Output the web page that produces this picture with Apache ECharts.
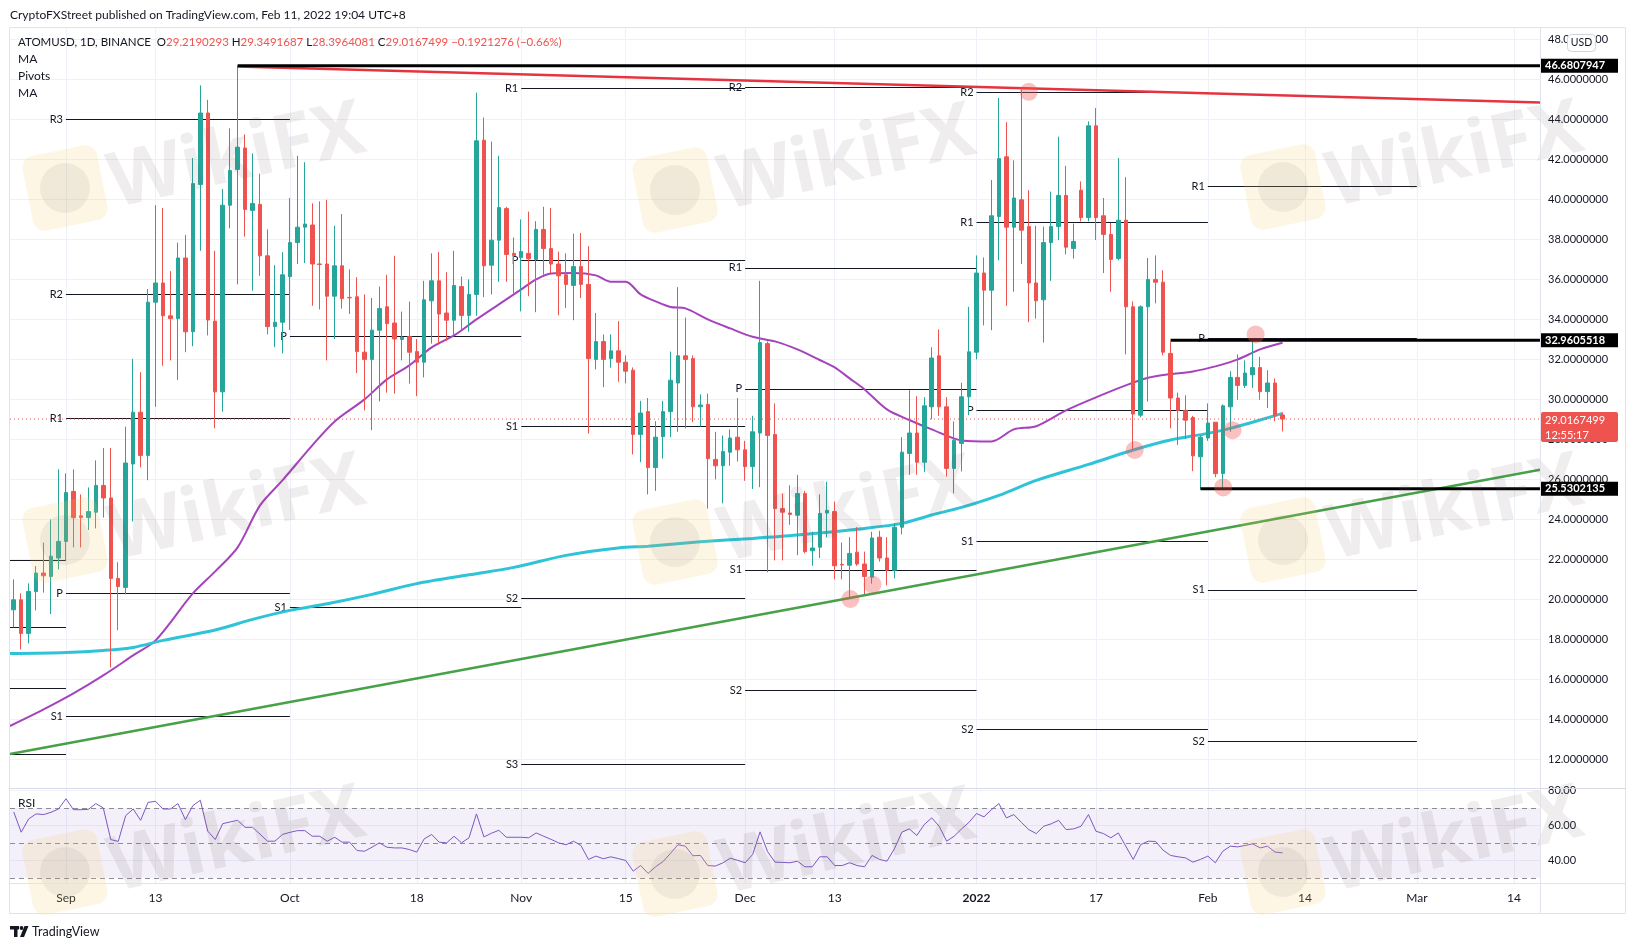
<!DOCTYPE html>
<html>
<head>
<meta charset="utf-8">
<title>ATOMUSD 1D</title>
<script src="https://cdn.jsdelivr.net/npm/echarts@6/dist/echarts.min.js"></script>
<style>
html, body { margin: 0; padding: 0; background: #fff; }
#chart { width: 1633px; height: 950px; }
</style>
</head>
<body>
<div id="chart"></div>
<script>
var FONT = 'Lato, "Liberation Sans", sans-serif';

// one category per day, starting 2021-08-25
var firstDay = Date.UTC(2021, 7, 25);
var dayCount = 205;

// daily candles [open, close, low, high] from 2021-08-25 to 2022-02-11
var candles = [
  [19.48,19.98,18.6,21.0],[19.98,18.3,17.5,20.3],[18.3,20.4,17.8,20.8],[20.39,21.32,19.45,21.67],
  [21.32,21.18,20.34,22.84],[21.15,22.16,19.27,24.0],[22.07,22.9,21.5,26.5],[22.9,25.34,21.95,26.3],
  [25.4,24.09,22.6,26.5],[24.18,24.09,22.6,25.25],[24.09,24.39,23.47,25.6],[24.36,25.7,23.55,26.95],
  [25.7,25.07,24.09,27.57],[25.07,21.05,16.6,27.57],[21.05,20.64,18.46,21.86],[20.6,26.82,20.25,28.64],
  [26.77,29.36,23.9,32.03],[29.36,27.2,26.6,31.36],[27.2,34.86,25.96,35.52],[34.86,35.82,29.63,39.71],
  [35.82,34.18,31.68,39.57],[34.18,34.04,31.95,36.41],[34.04,37.07,30.97,37.84],[37.07,33.38,32.36,38.23],
  [33.38,40.79,32.66,42.07],[40.75,44.32,37.43,45.7],[44.32,33.97,33.2,44.98],[33.91,30.38,28.55,37.43],
  [30.38,39.71,29.39,40.52],[39.71,41.45,38.55,43.55],[41.5,42.61,35.75,46.68],[42.57,39.5,38.14,43.25],
  [39.45,39.8,35.43,42.3],[39.75,37.18,36.18,41.29],[37.18,33.64,33.25,38.5],[33.64,33.86,32.61,36.71],
  [33.86,36.23,32.3,37.36],[36.14,37.84,33.47,40.07],[37.84,38.61,36.77,42.18],[38.61,38.77,36.82,41.86],
  [38.72,36.77,34.68,39.8],[36.77,36.75,34.5,39.9],[36.77,35.16,31.95,39.98],[35.16,36.68,33.02,38.68],
  [36.68,35.04,34.54,39.27],[35.1,35.08,34.27,36.5],[35.13,32.39,31.32,36.11],[32.36,32.0,29.45,35.25],
  [32.0,33.46,28.46,35.07],[33.46,34.54,29.9,35.64],[34.63,33.79,30.34,36.23],[33.82,33.02,30.29,37.18],
  [33.0,33.11,31.95,34.39],[33.14,32.36,30.79,34.89],[32.39,31.86,30.16,33.02],[31.86,34.98,31.1,35.93],
  [34.93,35.93,32.79,37.3],[35.93,34.27,32.75,37.36],[34.32,33.96,32.93,36.36],[33.96,35.7,33.2,37.43],
  [35.64,34.2,33.46,36.14],[34.2,35.25,33.38,36.0],[35.25,42.93,34.18,45.34],[42.96,36.68,35.11,44.09],
  [36.71,37.96,35.25,42.89],[37.96,39.59,35.88,42.18],[39.54,37.25,35.88,39.63],[37.3,37.2,35.3,38.1],
  [37.1,37.4,34.4,39.0],[37.3,37.03,35.16,39.39],[37.0,38.5,34.36,38.91],[38.5,37.54,36.23,39.63],
  [37.54,36.77,36.32,39.57],[36.77,36.18,34.2,37.39],[36.23,35.75,34.57,37.3],[35.7,36.64,33.96,38.29],
  [36.64,35.75,35.07,38.32],[35.75,32.04,28.29,37.66],[32.0,32.89,31.5,34.32],[32.89,32.0,30.61,33.25],
  [32.04,32.43,31.59,33.25],[32.43,31.86,30.88,33.91],[31.86,31.41,30.8,32.2],[31.46,28.25,27.25,31.6],
  [28.25,29.32,26.86,29.93],[29.39,26.59,25.25,30.07],[26.59,28.11,25.43,28.91],[28.14,29.39,27.04,29.93],
  [29.39,30.96,28.11,32.39],[30.82,32.18,28.38,35.61],[32.18,32.0,28.55,34.09],[32.04,29.63,28.86,32.2],
  [29.63,29.72,28.64,30.25],[29.75,27.04,24.54,30.29],[27.0,26.68,26.0,28.38],[26.68,27.39,24.8,28.2],
  [27.36,28.07,26.68,28.5],[28.11,27.48,26.89,30.07],[27.48,26.64,25.93,27.93],[26.64,28.38,25.52,29.18],
  [28.32,32.84,25.61,35.93],[32.79,28.2,21.36,32.9],[28.25,24.54,21.95,29.8],[24.54,24.36,21.95,25.29],
  [24.32,24.25,23.73,25.7],[24.21,25.29,22.21,26.23],[25.29,22.39,22.3,25.43],[22.43,22.57,21.68,23.38],
  [22.61,24.3,22.07,25.25],[24.32,24.45,23.11,25.88],[24.39,21.68,21.0,24.89],[21.75,21.72,21.0,22.84],
  [21.71,22.3,20.07,23.11],[22.36,21.77,21.68,23.61],[21.77,21.14,20.25,22.39],[21.11,23.07,20.79,23.38],
  [23.11,22.07,21.89,23.43],[22.07,21.46,20.7,23.11],[21.46,23.61,21.05,23.82],[23.61,27.36,23.25,28.11],
  [27.3,28.32,26.23,30.46],[28.32,26.86,26.23,30.16],[26.86,29.68,26.36,30.11],[29.63,32.07,29.0,32.61],
  [32.18,29.63,29.18,33.5],[29.63,26.55,26.14,30.11],[26.55,27.96,25.3,28.9],[27.8,30.13,26.4,30.83],
  [30.13,32.38,29.21,34.63],[32.36,36.32,32.0,37.2],[36.32,35.46,33.7,37.1],[35.46,39.18,33.46,40.97],
  [39.14,42.04,36.95,45.07],[42.13,38.61,34.68,43.86],[38.61,40.07,35.39,41.95],[39.98,38.46,36.77,45.5],
  [38.64,35.82,33.86,40.46],[35.82,34.93,34.04,38.68],[34.98,37.84,32.84,38.64],[37.84,38.64,35.93,40.39],
  [38.64,40.2,37.96,43.14],[40.2,37.61,37.25,41.68],[37.54,37.9,37.04,38.79],[40.46,39.09,38.9,40.9],
  [39.09,43.68,38.9,43.9],[43.68,39.09,37.97,44.57],[39.18,38.25,36.32,40.07],[38.25,37.0,35.39,38.82],
  [37.04,38.96,36.95,42.07],[38.96,34.63,32.25,41.11],[34.63,29.27,27.48,34.9],[29.21,34.63,29.1,34.7],
  [34.63,36.0,29.89,37.07],[36.0,35.86,34.8,37.2],[35.86,32.36,32.2,36.46],[32.3,30.07,28.55,32.89],
  [30.07,29.45,27.72,30.34],[29.45,28.96,28.02,30.21],[29.09,27.18,26.41,29.18],[27.13,28.11,25.53,28.2],
  [28.07,28.82,27.93,29.8],[28.86,26.29,26.11,28.86],[26.29,29.68,25.53,29.75],[29.63,31.1,28.38,31.41],
  [31.1,30.7,29.98,32.25],[30.7,31.32,30.57,31.95],[31.23,31.59,30.57,32.96],[31.59,30.39,29.98,32.13],
  [30.39,30.82,29.57,31.46],[30.82,29.18,28.91,31.05],[29.2190293,29.0167499,28.3964081,29.3491687]
];

// moving averages: [day index, price]
var maFast = [
  [-0.5,13.67],[4,14.5],[8,15.3],[12,16.2],[16,17.2],[19,17.95],[24,20.3],[27,21.4],[30,22.6],
  [33,24.7],[36,25.95],[40,27.7],[43,28.9],[47,30.0],[50,31.0],[53,31.7],[56,32.6],[59,33.2],
  [62,34.0],[65,34.75],[68,35.5],[70,36.0],[72,36.3],[75,36.32],[78,36.2],[80,35.88],[82,35.88],
  [84,35.25],[86,34.9],[88,34.62],[90,34.55],[93,34.0],[96,33.55],[99,33.13],[102,32.9],[105,32.5],
  [108,31.97],[110,31.6],[112,31.05],[114,30.5],[117,29.5],[120,28.97],[123,28.5],[127,27.95],
  [131,27.9],[134,28.5],[137,28.66],[141,29.45],[145,30.1],[149,30.7],[152,31.08],[154,31.22],
  [158,31.4],[161,31.65],[164,32.0],[167,32.5],[170,32.83]
];
var maSlow = [
  [-0.5,17.3],[7,17.35],[12,17.45],[16,17.6],[20,17.95],[27,18.47],[32,19.0],[37,19.45],[42,19.78],
  [48,20.25],[54,20.79],[61,21.23],[67,21.6],[74,22.2],[81,22.57],[85,22.66],[92,22.88],[99,23.05],
  [105,23.22],[114,23.55],[119,23.8],[123,24.22],[127,24.6],[132,25.2],[137,25.95],[144,26.75],
  [150,27.47],[155,27.97],[160,28.3],[163,28.55],[167,28.97],[170,29.3]
];

// RSI, one value per candle
var rsi = [
  67.7,56.1,63.7,66.6,66.2,67.5,69.4,75.3,69.0,69.0,69.2,72.5,70.0,51.9,50.8,65.6,69.4,62.9,73.2,73.8,
  69.4,69.4,72.5,63.3,71.3,74.4,56.7,51.9,61.0,62.0,62.9,58.9,58.9,55.0,50.95,50.95,54.8,56.0,57.0,57.0,
  53.8,53.8,50.95,53.2,50.4,50.4,45.6,45.2,47.5,50.0,47.5,47.1,47.1,46.2,44.7,52.3,54.8,50.4,50.0,53.8,
  50.0,52.9,66.6,53.4,55.5,57.2,53.2,53.2,53.2,52.9,55.7,53.8,52.0,50.0,48.9,50.95,48.5,40.5,42.4,40.9,
  42.0,41.0,39.9,33.8,37.0,32.5,36.3,39.3,44.0,48.9,48.1,42.6,42.8,37.0,36.7,38.5,41.2,40.0,38.6,43.3,
  56.3,45.0,38.95,38.8,38.6,39.5,36.3,36.3,42.0,42.0,37.0,37.0,38.6,37.0,36.3,42.8,40.5,39.5,46.6,56.1,
  58.0,54.2,60.5,64.3,59.5,50.95,53.8,58.0,61.8,66.8,64.9,69.0,72.5,64.3,66.2,61.8,57.6,55.3,59.5,60.9,
  62.9,57.6,58.0,59.5,66.2,56.7,55.3,52.9,55.7,48.1,40.5,49.0,50.95,50.8,45.8,42.8,42.0,41.4,38.95,40.5,
  42.4,38.6,45.2,48.1,47.7,48.5,49.4,47.1,48.1,44.7,44.3
];

var priceTicks = [12,14,16,18,20,22,24,26,28,30,32,34,36,38,40,42,44,46,48];
var rsiTicks = [40, 60, 80];
var timeLabels = {
  '2021-09-01': 'Sep', '2021-09-13': '13', '2021-10-01': 'Oct', '2021-10-18': '18',
  '2021-11-01': 'Nov', '2021-11-15': '15', '2021-12-01': 'Dec', '2021-12-13': '13',
  '2022-01-01': '2022', '2022-01-17': '17', '2022-02-01': 'Feb', '2022-02-14': '14',
  '2022-03-01': 'Mar', '2022-03-14': '14'
};

// monthly pivots: span in day index, then [name, level]
var pivotSpans = [[-0.5,7],[7,37],[37,68],[68,98],[98,129],[129,160],[160,188]];
var pivotLevels = [
  [['',21.95],['',18.62],['',15.54],['',12.26]],
  [['R3',44.0],['R2',35.25],['R1',29.05],['P',20.3],['S1',14.14]],
  [['P',33.14],['S1',19.6]],
  [['R1',45.54],['P',36.95],['S1',28.66],['S2',20.07],['S3',11.74]],
  [['R2',45.6],['R1',36.58],['P',30.53],['S1',21.48],['S2',15.44]],
  [['R2',45.37],['R1',38.87],['P',29.45],['S1',22.92],['S2',13.51]],
  [['R1',40.67],['P',33.07],['S1',20.48],['S2',12.89]]
];

// drawings
var redTrend = [[30,46.65],[204.5,44.85]];
var greenTrend = [[-0.5,12.27],[204.5,26.48]];
var levelLines = [[30,46.6807947],[155,32.9605518],[159,25.5302135]];
var lastClose = 29.0167499;
var touches = [[136,45.38],[166.4,33.25],[150.2,27.47],[163.3,28.46],[162.05,25.6],[112.1,20.02],[115.06,20.75]];

var dates = [];
for (var i = 0; i < dayCount; i++) {
  dates.push(new Date(firstDay + i * 86400000).toISOString().slice(0, 10));
}
var labelIdx = Object.keys(timeLabels).map(function (d) { return dates.indexOf(d); });

var pivotMarks = [];
pivotLevels.forEach(function (lv, k) {
  lv.forEach(function (p) {
    pivotMarks.push([{ coord: [pivotSpans[k][0], p[1]], name: p[0] }, { coord: [pivotSpans[k][1], p[1]] }]);
  });
});

var chart = echarts.init(document.getElementById('chart'));

var noAxis = { axisLine: { show: false }, axisTick: { show: false }, splitLine: { show: false } };

var option = {
  animation: false,
  backgroundColor: '#ffffff',
  textStyle: { fontFamily: FONT },
  grid: [
    { left: 10, top: 27, width: 1530, height: 761 },
    { left: 10, top: 788, width: 1530, height: 95 }
  ],
  xAxis: [
    { type: 'category', gridIndex: 0, data: dates, boundaryGap: true, show: false },
    { type: 'value', gridIndex: 0, min: -0.5, max: dayCount - 0.5, show: false },
    Object.assign({
      type: 'category', gridIndex: 1, data: dates, boundaryGap: true,
      axisLabel: {
        interval: function (idx, val) { return !!timeLabels[val]; },
        formatter: function (val) { return val === '2022-01-01' ? '{b|2022}' : (timeLabels[val] || ''); },
        color: '#131722', fontSize: 12, margin: 9, fontFamily: FONT,
        rich: { b: { fontWeight: 'bold', fontSize: 12, color: '#131722', fontFamily: FONT } }
      }
    }, noAxis)
  ],
  yAxis: [
    Object.assign({
      type: 'value', gridIndex: 0, position: 'right', min: 10.57, max: 48.62,
      axisLabel: { customValues: priceTicks, formatter: function (v) { return v.toFixed(7); },
        color: '#131722', fontSize: 11, margin: 8, fontFamily: FONT }
    }, noAxis),
    Object.assign({
      type: 'value', gridIndex: 1, position: 'right', min: 27.0, max: 81.43,
      axisLabel: { customValues: rsiTicks, formatter: function (v) { return v.toFixed(2); },
        color: '#131722', fontSize: 11, margin: 8, fontFamily: FONT }
    }, noAxis)
  ],
  series: [
    {
      name: 'grid', type: 'line', xAxisIndex: 1, yAxisIndex: 0, data: [], silent: true,
      markLine: {
        z: 0, silent: true, symbol: ['none', 'none'], label: { show: false },
        lineStyle: { color: '#eef1f7', width: 1, type: 'solid' },
        data: priceTicks.map(function (v) { return { yAxis: v }; })
          .concat(labelIdx.map(function (x) { return { xAxis: x }; }))
      }
    },
    {
      name: 'pivots', type: 'line', xAxisIndex: 1, yAxisIndex: 0, data: [], silent: true,
      markLine: {
        z: 1, silent: true, symbol: ['none', 'none'],
        lineStyle: { color: '#131722', width: 1, type: 'solid' },
        label: { show: true, position: 'start', formatter: '{b}', color: '#131722', fontSize: 11, distance: 3, fontFamily: FONT },
        data: pivotMarks
      }
    },
    {
      name: 'MA fast', type: 'line', xAxisIndex: 1, yAxisIndex: 0, data: maFast, smooth: 0.3,
      symbol: 'none', z: 3, lineStyle: { color: '#a543bd', width: 2 }
    },
    {
      name: 'MA slow', type: 'line', xAxisIndex: 1, yAxisIndex: 0, data: maSlow, smooth: 0.3,
      symbol: 'none', z: 3, lineStyle: { color: '#2ec3d7', width: 3 }
    },
    {
      name: 'last', type: 'line', xAxisIndex: 1, yAxisIndex: 0, symbol: 'none', z: 3,
      data: [[-0.5, lastClose], [dayCount - 0.5, lastClose]],
      lineStyle: { color: '#ef5350', width: 1, type: [1, 3] }
    },
    {
      name: 'ATOMUSD', type: 'candlestick', xAxisIndex: 0, yAxisIndex: 0, data: candles, z: 4,
      barWidth: 4,
      itemStyle: { color: '#26a69a', color0: '#ef5350', borderColor: '#26a69a', borderColor0: '#ef5350', borderWidth: 1 }
    },
    {
      name: 'resistance', type: 'line', xAxisIndex: 1, yAxisIndex: 0, data: redTrend, symbol: 'none', z: 5,
      lineStyle: { color: '#e5343f', width: 2.5 }
    },
    {
      name: 'support', type: 'line', xAxisIndex: 1, yAxisIndex: 0, data: greenTrend, symbol: 'none', z: 5,
      lineStyle: { color: '#47a148', width: 2.5 }
    }
  ].concat(levelLines.map(function (l) {
    return {
      type: 'line', xAxisIndex: 1, yAxisIndex: 0, symbol: 'none', z: 5,
      data: [[l[0], l[1]], [dayCount - 0.5, l[1]]],
      lineStyle: { color: '#000000', width: 3 }
    };
  })).concat([
    {
      name: 'touches', type: 'scatter', xAxisIndex: 1, yAxisIndex: 0, data: touches, z: 6,
      symbolSize: 18, itemStyle: { color: 'rgba(240,82,82,0.45)' }, silent: true
    },
    {
      name: 'rsi grid', type: 'line', xAxisIndex: 2, yAxisIndex: 1, data: [], silent: true,
      markLine: {
        z: 0, silent: true, symbol: ['none', 'none'], label: { show: false },
        lineStyle: { color: '#eef1f7', width: 1, type: 'solid' },
        data: rsiTicks.map(function (v) { return { yAxis: v }; })
          .concat(Object.keys(timeLabels).map(function (d) { return { xAxis: d }; }))
      },
      markArea: {
        silent: true, itemStyle: { color: 'rgba(126,87,194,0.09)' },
        data: [[{ yAxis: 30 }, { yAxis: 70 }]]
      }
    },
    {
      name: 'RSI', type: 'line', xAxisIndex: 2, yAxisIndex: 1, data: rsi, symbol: 'none', z: 4,
      lineStyle: { color: '#7e57c2', width: 1 },
      markLine: {
        z: 2, silent: true, symbol: ['none', 'none'], label: { show: false },
        lineStyle: { color: '#8a8d96', width: 1, type: [5, 4] },
        data: [{ yAxis: 70 }, { yAxis: 50 }, { yAxis: 30 }]
      }
    }
  ])
};

chart.setOption(option);

// ----- texts, frame, axis badges and watermarks -----
var g = [];
function line(x1, y1, x2, y2, c) {
  g.push({ type: 'line', silent: true, z: 50, shape: { x1: x1, y1: y1, x2: x2, y2: y2 }, style: { stroke: c || '#e0e3eb', lineWidth: 1 } });
}
function text(x, y, s, extra) {
  var st = { text: s, x: 0, y: 0, fill: '#131722', fontSize: 12, fontFamily: FONT, verticalAlign: 'middle' };
  for (var k in extra) st[k] = extra[k];
  g.push({ type: 'text', silent: true, z: 60, x: x, y: y, style: st });
}

// watermarks
var wmLogos = [[65,188],[675,190],[1283,187],[65,540],[675,542],[1283,540],[65,872],[675,874],[1283,872]];
wmLogos.forEach(function (p) {
  g.push({ type: 'rect', silent: true, z: 40, x: p[0], y: p[1], rotation: 0.2,
    shape: { x: -38, y: -38, width: 76, height: 76, r: 12 }, style: { fill: 'rgba(247,200,100,0.17)' } });
  g.push({ type: 'circle', silent: true, z: 41, x: p[0], y: p[1], shape: { cx: 0, cy: 0, r: 25 },
    style: { fill: 'rgba(120,115,115,0.10)' } });
  g.push({ type: 'text', silent: true, z: 41, x: p[0] + 172, y: p[1] - 30, rotation: 0.22,
    style: { text: 'WikiFX', fontSize: 76, fontWeight: 'bold', fontFamily: '"Open Sans", sans-serif',
      fill: 'rgba(105,95,95,0.11)', align: 'center', verticalAlign: 'middle' } });
});

// frame
g.push({ type: 'rect', silent: true, z: 50, shape: { x: 9.5, y: 27.5, width: 1616, height: 886 },
  style: { fill: null, stroke: '#e0e3eb', lineWidth: 1 } });
line(1540.5, 27.5, 1540.5, 913.5);
line(9.5, 788.5, 1625.5, 788.5, '#d8dbe3');
line(9.5, 883.5, 1625.5, 883.5);

// header and legend
text(10, 15, 'CryptoFXStreet published on TradingView.com, Feb 11, 2022 19:04 UTC+8', { fontSize: 12 });
g.push({ type: 'text', silent: true, z: 60, x: 18, y: 42, style: {
  text: '{k|ATOMUSD, 1D, BINANCE  O}{v|29.2190293}{k| H}{v|29.3491687}{k| L}{v|28.3964081}{k| C}{v|29.0167499 −0.1921276 (−0.66%)}',
  verticalAlign: 'middle', fontFamily: FONT, fontSize: 11.5,
  rich: { k: { fill: '#131722', fontSize: 11.5, fontFamily: FONT }, v: { fill: '#ef5350', fontSize: 11.5, fontFamily: FONT } }
} });
text(18, 59, 'MA');
text(18, 76, 'Pivots');
text(18, 93, 'MA');
text(18, 803, 'RSI');

// price scale badges
levelLines.forEach(function (l) {
  var py = chart.convertToPixel({ yAxisIndex: 0 }, l[1]);
  g.push({ type: 'rect', silent: true, z: 70, shape: { x: 1541, y: py - 7, width: 77, height: 14 }, style: { fill: '#000000' } });
  text(1545, py, l[1].toFixed(7), { fill: '#ffffff', fontSize: 11, fontWeight: 'bold' });
  g[g.length - 1].z = 71;
});
var pyLast = chart.convertToPixel({ yAxisIndex: 0 }, lastClose);
g.push({ type: 'rect', silent: true, z: 70, shape: { x: 1541, y: pyLast - 7, width: 77, height: 30, r: 2 }, style: { fill: '#ef5350' } });
text(1545, pyLast + 1, lastClose.toFixed(7), { fill: '#ffffff', fontSize: 11 });
g[g.length - 1].z = 71;
text(1545, pyLast + 16, '12:55:17', { fill: '#ffffff', fontSize: 11 });
g[g.length - 1].z = 71;

// currency tag
g.push({ type: 'rect', silent: true, z: 70, shape: { x: 1567.5, y: 34.5, width: 28, height: 17, r: 4 },
  style: { fill: '#ffffff', stroke: '#d1d4dc', lineWidth: 1 } });
text(1581.5, 43, 'USD', { fontSize: 10.5, align: 'center' });
g[g.length - 1].z = 71;

// TradingView mark
g.push({ type: 'rect', silent: true, z: 60, shape: { x: 10, y: 926, width: 9, height: 3.5 }, style: { fill: '#131722' } });
g.push({ type: 'rect', silent: true, z: 60, shape: { x: 14, y: 926, width: 3.5, height: 11 }, style: { fill: '#131722' } });
g.push({ type: 'circle', silent: true, z: 60, shape: { cx: 21.5, cy: 928, r: 1.9 }, style: { fill: '#131722' } });
g.push({ type: 'polygon', silent: true, z: 60, shape: { points: [[24.5, 926], [28.5, 926], [24, 937], [20, 937]] }, style: { fill: '#131722' } });
text(32, 932, 'TradingView', { fontSize: 12.5 });

chart.setOption({ graphic: g });
</script>
</body>
</html>
